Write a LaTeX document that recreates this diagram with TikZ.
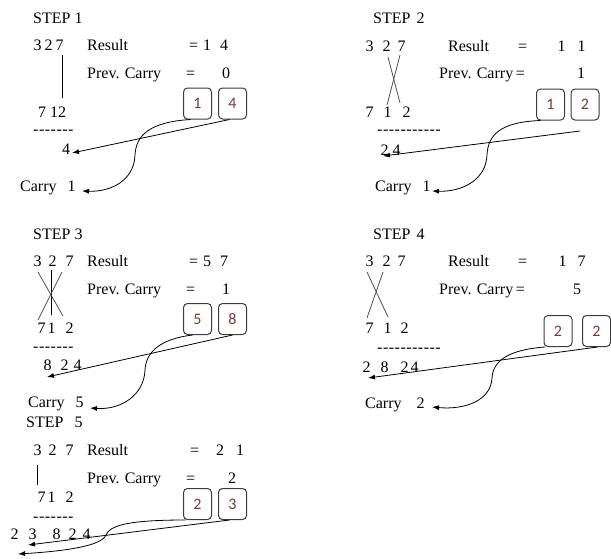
\documentclass[tikz,border=0pt]{standalone}
\usepackage{fontspec}
\setmainfont{Liberation Serif}
\newfontfamily\boxfont{Carlito}
\usetikzlibrary{arrows.meta}
\newcommand\pdig[2]{\makebox[0pt][l]{\hspace{#1pt}#2}}
\definecolor{boxtxt}{RGB}{125,55,45}
\definecolor{boxline}{RGB}{60,60,60}
\definecolor{xline}{RGB}{80,80,80}
\begin{document}
\begin{tikzpicture}[x=1pt,y=-1pt,
  txt/.style={anchor=base west,inner sep=0pt,font=\fontsize{16}{19}\selectfont},
  digbox/.style={draw=boxline,line width=1pt,rounded corners=4pt,minimum width=28pt,minimum height=31pt,inner sep=0pt,text=boxtxt,font=\boxfont\fontsize{16}{19}\selectfont},
  conn/.style={line width=0.8pt,-{Latex[length=7pt,width=5pt]}},
  xl/.style={draw=xline,line width=0.8pt},
  vl/.style={draw=black,line width=0.8pt}]
\useasboundingbox (0,0) rectangle (611,558);
% ================= STEP 1
\node[txt] (s1) at (33,23) {STEP 1};
\node[txt] (s1top) at (33,50) {\pdig{0}{3}\pdig{11}{2}\pdig{22}{7}\hspace{30pt}};
\node[txt] (s1res) at (87,50) {Result};
\node[txt] (s1rv) at (189,50) {=\pdig{5}{1}\pdig{22}{4}\hspace{30pt}};
\node[txt] (s1pc) at (87,78) {Prev. Carry};
\node[txt] (s1pe) at (186,78) {=};
\node[txt] (s1pv) at (222,78) {0};
\node[txt] (s1bot) at (38,117) {7 12};
\node[txt] (s1dash) at (33,134) {-\kern0.5pt-\kern0.5pt-\kern0.5pt-\kern0.5pt-\kern0.5pt-\kern0.5pt-};
\node[txt] (s1ans) at (62,154) {4};
\node[txt] (s1car) at (20,191) {Carry\hspace{11pt}1};
\node[digbox] (b1a) at (197.5,103.5) {1};
\node[digbox] (b1b) at (232.5,103.5) {4};
\coordinate (s1top7) at (62,55);
\coordinate (s1bot1) at (62,98);
\draw[vl] (s1top7) -- (s1bot1);
\coordinate (e1a) at (72,153);
\coordinate (e1b) at (82,191);
\draw[conn] ([xshift=-3pt]b1b.south) -- (e1a);
\draw[conn] ([xshift=-7pt]b1a.south) .. controls (150,122) and (136,135) .. (135,155) .. controls (134,180) and (112,192) .. (e1b);
% ================= STEP 2
\node[txt] (s2) at (373,23) {STEP\hspace{6pt}2};
\node[txt] (s2top) at (365,51) {\pdig{0}{3}\pdig{17}{2}\pdig{32}{7}\hspace{40pt}};
\node[txt] (s2res) at (448,51) {Result};
\node[txt] (s2re) at (518,51) {=};
\node[txt] (s2rv) at (557,51) {\pdig{0}{1}\pdig{20}{1}\hspace{26pt}};
\node[txt] (s2pc) at (439,78) {Prev. Carry\,=};
\node[txt] (s2pv) at (577,78) {1};
\node[txt] (s2bot) at (365,117) {\pdig{0}{7}\pdig{18}{1}\pdig{37}{2}\hspace{45pt}};
\node[txt] (s2dash) at (377,134) {-\kern0.5pt-\kern0.5pt-\kern0.5pt-\kern0.5pt-\kern0.5pt-\kern0.5pt-\kern0.5pt-\kern0.5pt-\kern0.5pt-\kern0.5pt-};
\node[txt] (s2ans) at (380,155) {\pdig{0}{2}\pdig{12}{4}\hspace{20pt}};
\node[txt] (s2car) at (375,191) {Carry\hspace{11pt}1};
\node[digbox] (b2a) at (550.5,104.5) {1};
\node[digbox] (b2b) at (585,104.5) {2};
\coordinate (x2a) at (388,57);
\coordinate (x2b) at (400,103);
\coordinate (x2c) at (400,55);
\coordinate (x2d) at (387,105);
\draw[xl] (x2a) -- (x2b);
\draw[xl] (x2c) -- (x2d);
\coordinate (st2) at (580,131);
\coordinate (e2a) at (383,156);
\coordinate (e2b) at (432,191);
\draw[conn] (st2) -- (e2a);
\draw[conn] ([xshift=-10pt]b2a.south) .. controls (500,122) and (488,135) .. (487,155) .. controls (486,180) and (462,192) .. (e2b);
% ================= STEP 3
\node[txt] (s3) at (33,239) {STEP 3};
\node[txt] (s3top) at (33,266) {\pdig{0}{3}\pdig{15}{2}\pdig{32}{7}\hspace{40pt}};
\node[txt] (s3res) at (87,266) {Result};
\node[txt] (s3rv) at (189,266) {=\pdig{5}{5}\pdig{22}{7}\hspace{30pt}};
\node[txt] (s3pc) at (87,294) {Prev. Carry};
\node[txt] (s3pe) at (186,294) {=};
\node[txt] (s3pv) at (222,294) {1};
\node[txt] (s3bot) at (37,333) {\pdig{0}{7}\pdig{10}{1}\pdig{28}{2}\hspace{36pt}};
\node[txt] (s3dash) at (33,351) {-\kern0.5pt-\kern0.5pt-\kern0.5pt-\kern0.5pt-\kern0.5pt-\kern0.5pt-};
\node[txt] (s3ans) at (43,370) {\pdig{0}{8}\pdig{17}{2}\pdig{30}{4}\hspace{38pt}};
\node[txt] (s3car) at (28,407) {Carry\hspace{11pt}5};
\node[digbox] (b3a) at (197.5,319) {5};
\node[digbox] (b3b) at (232.5,319) {8};
\coordinate (v3a) at (51,270);
\coordinate (v3b) at (51,315);
\draw[vl] (v3a) -- (v3b);
\coordinate (x3a) at (38,272);
\coordinate (x3b) at (63,316);
\coordinate (x3c) at (62,272);
\coordinate (x3d) at (38,320);
\draw[xl] (x3a) -- (x3b);
\draw[xl] (x3c) -- (x3d);
\coordinate (e3a) at (47,377);
\coordinate (e3b) at (90,408);
\draw[conn] (b3b.south) -- (e3a);
\draw[conn] ([xshift=-5pt]b3a.south) .. controls (160,339) and (146,352) .. (145,370) .. controls (144,396) and (120,410) .. (e3b);
% ================= STEP 4
\node[txt] (s4) at (373,239) {STEP\hspace{6pt}4};
\node[txt] (s4top) at (365,266) {\pdig{0}{3}\pdig{17}{2}\pdig{32}{7}\hspace{40pt}};
\node[txt] (s4res) at (448,266) {Result};
\node[txt] (s4re) at (518,266) {=};
\node[txt] (s4rv) at (558,266) {\pdig{0}{1}\pdig{19}{7}\hspace{27pt}};
\node[txt] (s4pc) at (439,294) {Prev. Carry\,=};
\node[txt] (s4pv) at (573,294) {5};
\node[txt] (s4bot) at (365,333) {\pdig{0}{7}\pdig{18}{1}\pdig{35}{2}\hspace{43pt}};
\node[txt] (s4dash) at (377,352) {-\kern0.5pt-\kern0.5pt-\kern0.5pt-\kern0.5pt-\kern0.5pt-\kern0.5pt-\kern0.5pt-\kern0.5pt-\kern0.5pt-\kern0.5pt-};
\node[txt] (s4ans) at (362,372) {\pdig{0}{2}\pdig{18}{8}\pdig{38}{2}\pdig{48}{4}\hspace{56pt}};
\node[txt] (s4car) at (365,408) {Carry\hspace{15pt}2};
\node[digbox] (b4a) at (558,331) {2};
\node[digbox] (b4b) at (596.5,331) {2};
\coordinate (x4a) at (367,272);
\coordinate (x4b) at (388,317);
\coordinate (x4c) at (383,272);
\coordinate (x4d) at (367,318);
\draw[xl] (x4a) -- (x4b);
\draw[xl] (x4c) -- (x4d);
\coordinate (e4a) at (368,378);
\coordinate (e4b) at (432,407);
\draw[conn] ([xshift=1pt]b4b.south) -- (e4a);
\draw[conn] ([xshift=-13pt]b4a.south) .. controls (506,350) and (493,362) .. (492,378) .. controls (491,400) and (466,410) .. (e4b);
% ================= STEP 5
\node[txt] (s5) at (26,427) {STEP\hspace{11pt}5};
\node[txt] (s5top) at (33,455) {\pdig{0}{3}\pdig{15}{2}\pdig{32}{7}\hspace{40pt}};
\node[txt] (s5res) at (87,455) {Result};
\node[txt] (s5rv) at (190,455) {=\pdig{17}{2}\pdig{37}{1}\hspace{42pt}};
\node[txt] (s5pc) at (87,483) {Prev. Carry};
\node[txt] (s5pe) at (186,483) {=};
\node[txt] (s5pv) at (228,483) {2};
\node[txt] (s5bot) at (37,502) {\pdig{0}{7}\pdig{10}{1}\pdig{28}{2}\hspace{36pt}};
\node[txt] (s5dash) at (33,521) {-\kern0.5pt-\kern0.5pt-\kern0.5pt-\kern0.5pt-\kern0.5pt-\kern0.5pt-};
\node[txt] (s5ans) at (10,539) {\pdig{0}{2}\pdig{18}{3}\pdig{42}{8}\pdig{58}{2}\pdig{72}{4}\hspace{80pt}};
\node[digbox] (b5a) at (197.5,504) {2};
\node[digbox] (b5b) at (232.5,504) {3};
\coordinate (v5a) at (37,465);
\coordinate (v5b) at (37,485);
\draw[vl] (v5a) -- (v5b);
\coordinate (e5a) at (28,545);
\coordinate (e5b) at (18,554);
\draw[conn] ([xshift=-3pt]b5b.south) -- (e5a);
\draw[conn] ([xshift=-12pt]b5a.south) .. controls (130,520) and (110,525) .. (106,535) .. controls (101,548) and (50,552) .. (e5b);
\end{tikzpicture}
\end{document}
